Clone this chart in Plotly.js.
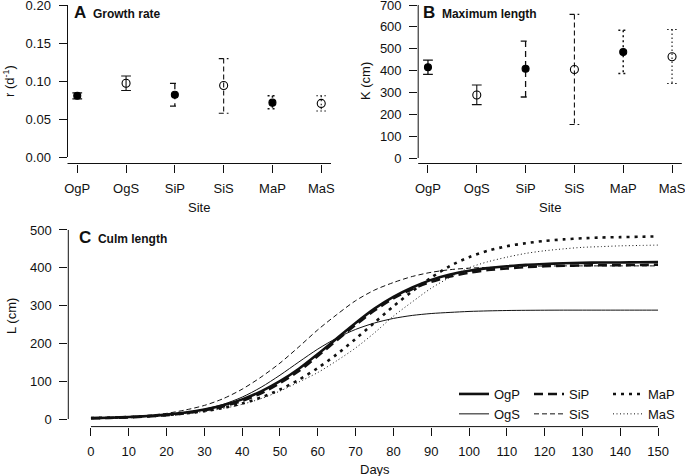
<!DOCTYPE html>
<html>
<head>
<meta charset="utf-8">
<script src="https://cdn.plot.ly/plotly-3.0.1.min.js"></script>
<style>html,body{margin:0;padding:0;background:#fff;}#chart{width:685px;height:476px;}</style>
</head>
<body>
<div id="chart"></div>
<script>
// ---------- data ----------
const sites = ['OgP', 'OgS', 'SiP', 'SiS', 'MaP', 'MaS'];
const sitePos = [1, 2, 3, 4, 5, 6];

// Panel A: growth rate r (d^-1)
const rMean = [0.0805, 0.097, 0.082, 0.094, 0.0715, 0.0705];
const rLow  = [0.0765, 0.0875, 0.067, 0.0575, 0.0635, 0.0605];
const rHigh = [0.0845, 0.1065, 0.097, 0.1295, 0.0805, 0.0805];
const yTicksA = [0, 0.05, 0.10, 0.15, 0.20];
const yTickTextA = ['0.00', '0.05', '0.10', '0.15', '0.20'];

// Panel B: maximum length K (cm)
const kMean = [415, 288, 408, 405, 485, 463];
const kLow  = [383, 244, 279, 153, 387, 341];
const kHigh = [448, 334, 535, 657, 585, 588];
const yTicksB = [0, 100, 200, 300, 400, 500, 600, 700];

// Panel C: culm length L (cm) against days
const days = [0, 5, 10, 15, 20, 25, 30, 35, 40, 45, 50, 55, 60, 65, 70, 75, 80, 85, 90, 95, 100, 105, 110, 115, 120, 125, 130, 135, 140, 145, 150];
const lenOgP = [2.4, 3.6, 5.3, 7.9, 11.7, 17.3, 25.2, 36.5, 52, 73, 100, 133, 172, 213, 254, 292, 323, 348, 368, 382, 392, 399, 404, 408, 410, 412, 413, 414, 414, 414.5, 415];
const lenOgS = [1.8, 2.8, 4.3, 6.8, 10.5, 16.5, 26, 39, 58, 84, 116, 151, 185, 214, 237, 254, 266, 274, 279, 282, 284.5, 286, 287, 287.5, 287.8, 288, 288, 288, 288, 288, 288];
const lenSiP = [2.0, 3.1, 4.6, 6.9, 10.3, 15.4, 22.8, 33.5, 48, 68, 95, 127, 167, 208, 249, 287, 319, 344, 363, 377, 387, 394, 398, 402, 404, 405.5, 406, 407, 407, 407.5, 408];
const lenSiS = [2.0, 3.5, 6, 10, 15, 24, 36, 54, 79, 111, 148, 191, 236, 276, 313, 341, 361, 377, 388, 395, 399, 401, 403, 404, 404.5, 405, 405, 405, 405, 405, 405];
const lenMaP = [2.6, 3.7, 5.2, 7.4, 10.5, 14.8, 21, 29.5, 41, 57, 78, 104, 135, 171, 212, 255, 298, 338, 374, 405, 428, 445, 457, 465, 471, 475, 478, 480, 481, 482, 483];
const lenMaS = [2.6, 3.7, 5.2, 7.4, 10.3, 14.5, 20, 28, 39, 54, 74, 98, 123, 154, 188, 228, 272, 310, 346, 375, 400, 416, 428, 438, 445, 450, 454, 456, 458, 459, 460];
const xTicksC = [0, 10, 20, 30, 40, 50, 60, 70, 80, 90, 100, 110, 120, 130, 140, 150];
const yTicksC = [0, 100, 200, 300, 400, 500];

// ---------- styles ----------
const INK = '#111111';
const FONT = 'Liberation Sans, Arial, Helvetica, sans-serif';
const barDash  = ['solid', 'solid', '6px,4px', '5px,3px', '2px,3px', '1.5px,2.5px'];
const barWidth = [1.3, 1.1, 1.3, 1.1, 1.5, 1.1];
const markerSym = ['circle', 'circle-open', 'circle', 'circle-open', 'circle', 'circle-open'];
const markerSize = [7, 8, 7, 8, 7, 8];

const W = 685, H = 476;
const px = x => x / W;
const py = y => 1 - y / H;

const traces = [];

function addErrorPanel(mean, low, high, xa, ya) {
  const cap = 0.1;
  for (let i = 0; i < sites.length; i++) {
    const x = sitePos[i];
    traces.push({
      type: 'scatter', mode: 'lines', xaxis: xa, yaxis: ya, showlegend: false, hoverinfo: 'skip',
      x: [x - cap, x + cap, null, x, x, null, x - cap, x + cap],
      y: [high[i], high[i], null, high[i], low[i], null, low[i], low[i]],
      line: {color: INK, width: barWidth[i], dash: barDash[i]}
    });
  }
  traces.push({
    type: 'scatter', mode: 'markers', xaxis: xa, yaxis: ya, showlegend: false,
    x: sitePos, y: mean, text: sites, opacity: 1,
    marker: {symbol: markerSym, size: markerSize, color: '#000', opacity: 1, line: {color: '#000', width: 1.1}}
  });
}
addErrorPanel(rMean, rLow, rHigh, 'x', 'y');
addErrorPanel(kMean, kLow, kHigh, 'x2', 'y2');

const curves = [
  {name: 'OgP', y: lenOgP, width: 2.6, dash: 'solid', legend: 'legend'},
  {name: 'OgS', y: lenOgS, width: 1.0, dash: 'solid', legend: 'legend'},
  {name: 'SiP', y: lenSiP, width: 2.6, dash: '9px,5px', legend: 'legend2'},
  {name: 'SiS', y: lenSiS, width: 1.0, dash: '5px,3px', legend: 'legend2'},
  {name: 'MaP', y: lenMaP, width: 2.6, dash: '3px,5px', legend: 'legend3'},
  {name: 'MaS', y: lenMaS, width: 1.0, dash: '1px,2.5px', legend: 'legend3'}
];
curves.forEach(c => traces.push({
  type: 'scatter', mode: 'lines', xaxis: 'x3', yaxis: 'y3', name: c.name, legend: c.legend,
  x: days, y: c.y, line: {color: INK, width: c.width, dash: c.dash, shape: 'spline', smoothing: 0.8}
}));

const baseAxis = {
  showgrid: false, zeroline: false, showline: false, ticks: 'outside', ticklen: 8, tickwidth: 1,
  tickcolor: INK, tickfont: {family: FONT, size: 13, color: INK}, fixedrange: true,
  ticklabeloverflow: 'allow', ticklabelstandoff: 5
};

const legendBase = {yanchor: 'top', xanchor: 'left', bgcolor: 'rgba(0,0,0,0)', font: {family: FONT, size: 13, color: INK}, itemwidth: 30, tracegroupgap: 0};

const layout = {
  width: W, height: H, margin: {l: 0, r: 0, t: 0, b: 0},
  paper_bgcolor: '#fff', plot_bgcolor: 'rgba(0,0,0,0)',
  font: {family: FONT, size: 13, color: INK},
  xaxis: Object.assign({}, baseAxis, {domain: [px(67.5), px(331)], range: [0.8, 6.2], tickvals: sitePos, ticktext: sites, anchor: 'y'}),
  yaxis: Object.assign({}, baseAxis, {domain: [py(163.5), py(0)], range: [-6.5 / 760, 0.2 + 5 / 760], tickvals: yTicksA, ticktext: yTickTextA, anchor: 'x'}),
  xaxis2: Object.assign({}, baseAxis, {domain: [px(418.2), px(681.8)], range: [0.8, 6.2], tickvals: sitePos, ticktext: sites, anchor: 'y2'}),
  yaxis2: Object.assign({}, baseAxis, {domain: [py(163.5), py(0)], range: [-5.5 / 0.21857, 700 + 5 / 0.21857], tickvals: yTicksB, anchor: 'x2'}),
  xaxis3: Object.assign({}, baseAxis, {domain: [px(68.3), px(680.7)], range: [-6, 156], tickvals: xTicksC, anchor: 'y3'}),
  yaxis3: Object.assign({}, baseAxis, {domain: [py(426.6), py(222.4)], range: [-20, 520], tickvals: yTicksC, anchor: 'x3'}),
  shapes: [],
  annotations: [],
  legend:  Object.assign({}, legendBase, {x: px(454), y: py(379)}),
  legend2: Object.assign({}, legendBase, {x: px(529), y: py(379)}),
  legend3: Object.assign({}, legendBase, {x: px(608), y: py(379)})
};

// R-style detached axis lines
function axisLines(xa, ya, yTicks, xFrom, xTo) {
  const ln = {color: INK, width: 1};
  layout.shapes.push({type: 'line', xref: xa + ' domain', x0: 0, x1: 0, yref: ya, y0: yTicks[0], y1: yTicks[yTicks.length - 1], line: ln});
  if (xFrom === undefined) {
    layout.shapes.push({type: 'line', xref: xa + ' domain', x0: 0, x1: 1, yref: ya + ' domain', y0: 0, y1: 0, line: ln});
  } else {
    layout.shapes.push({type: 'line', xref: xa, x0: xFrom, x1: xTo, yref: ya + ' domain', y0: 0, y1: 0, line: ln});
  }
}
axisLines('x', 'y', yTicksA);
axisLines('x2', 'y2', yTicksB);
axisLines('x3', 'y3', yTicksC, xTicksC[0], xTicksC[xTicksC.length - 1]);

function ann(text, x, y, opts) {
  layout.annotations.push(Object.assign({text: text, xref: 'paper', yref: 'paper', x: px(x), y: py(y), showarrow: false,
    xanchor: 'center', yanchor: 'middle', font: {family: FONT, size: 13, color: INK}}, opts || {}));
}
// panel titles
ann("<b><span style='font-size:17px'>A</span>  Growth rate</b>", 72, 12, {xanchor: 'left', font: {family: FONT, size: 12, color: INK}});
ann("<b><span style='font-size:17px'>B</span>  Maximum length</b>", 421, 12, {xanchor: 'left', font: {family: FONT, size: 12, color: INK}});
ann("<b><span style='font-size:17px'>C</span>  Culm length</b>", 77, 237, {xanchor: 'left', font: {family: FONT, size: 12, color: INK}});
// axis titles
ann('r (d<sup>-1</sup>)', 9, 81, {textangle: -90});
ann('K (cm)', 365, 81, {textangle: -90});
ann('L (cm)', 11, 316, {textangle: -90});
ann('Site', 199, 207);
ann('Site', 550, 207);
ann('Days', 374.5, 469);

Plotly.newPlot('chart', traces, layout, {staticPlot: true, displayModeBar: false});
</script>
</body>
</html>
